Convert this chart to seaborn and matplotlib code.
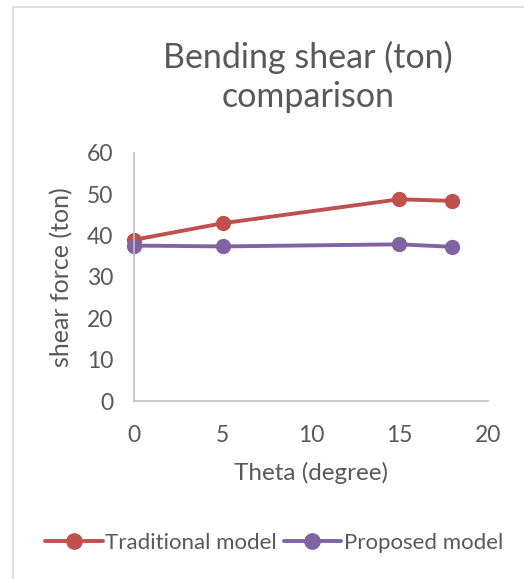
import matplotlib
matplotlib.use("Agg")
import matplotlib.pyplot as plt
import numpy as np
import pandas as pd
import seaborn as sns
from matplotlib.patches import Rectangle

theta = [0, 5, 15, 18]
traditional = [39.0, 43.0, 48.8, 48.4]
proposed = [37.6, 37.4, 37.9, 37.3]
series_names = ["Traditional model", "Proposed model"]
colors = ["#C0504D", "#8064A2"]

df = pd.DataFrame({
    "theta": theta * 2,
    "force": traditional + proposed,
    "model": [series_names[0]] * len(theta) + [series_names[1]] * len(theta),
})

sns.set_style("white")
plt.rcParams["font.family"] = ["Lato", "DejaVu Sans"]
grey = "#595959"

fig = plt.figure(figsize=(5.24, 5.79), dpi=100)
ax = fig.add_axes([0.256, 0.3074, 0.675, 0.4284])

sns.lineplot(data=df, x="theta", y="force", hue="model", palette=colors,
             marker="o", markersize=11, markeredgewidth=0, linewidth=2.8,
             ax=ax, legend=False)

ax.set_xlim(0, 20)
ax.set_ylim(0, 60)
ax.set_xticks([0, 5, 10, 15, 20])
ax.set_yticks([0, 10, 20, 30, 40, 50, 60])
ax.tick_params(axis="both", length=0, labelsize=16.5, labelcolor=grey)
ax.tick_params(axis="x", pad=17)
ax.tick_params(axis="y", pad=15)
for s in ["top", "right"]:
    ax.spines[s].set_visible(False)
for s in ["left", "bottom"]:
    ax.spines[s].set_color("#BFBFBF")
    ax.spines[s].set_linewidth(1.2)
for line in ax.lines:
    line.set_clip_on(False)

ax.set_xlabel("Theta (degree)", fontsize=17.5, color=grey, labelpad=12)
ax.set_ylabel("shear force (ton)", fontsize=18, color=grey, labelpad=10)
fig.text(0.588, 0.867, "Bending shear (ton)\ncomparison", ha="center", va="center",
         fontsize=24.5, color=grey, linespacing=1.3)

handles = [plt.Line2D([], [], color=c, marker="o", markersize=11, linewidth=2.8)
           for c in colors]
fig.legend(handles, series_names, loc="center", bbox_to_anchor=(0.523, 0.063),
           ncol=2, frameon=False, fontsize=16, labelcolor=grey,
           handlelength=2.6, handletextpad=0.1, columnspacing=0.3)

fig.patches.append(Rectangle((13 / 524, -0.1), 1.1, 1.1 - 7 / 579,
                             transform=fig.transFigure, fill=False,
                             edgecolor="#D9D9D9", linewidth=1.2))

fig.savefig("out.png", dpi=100)
